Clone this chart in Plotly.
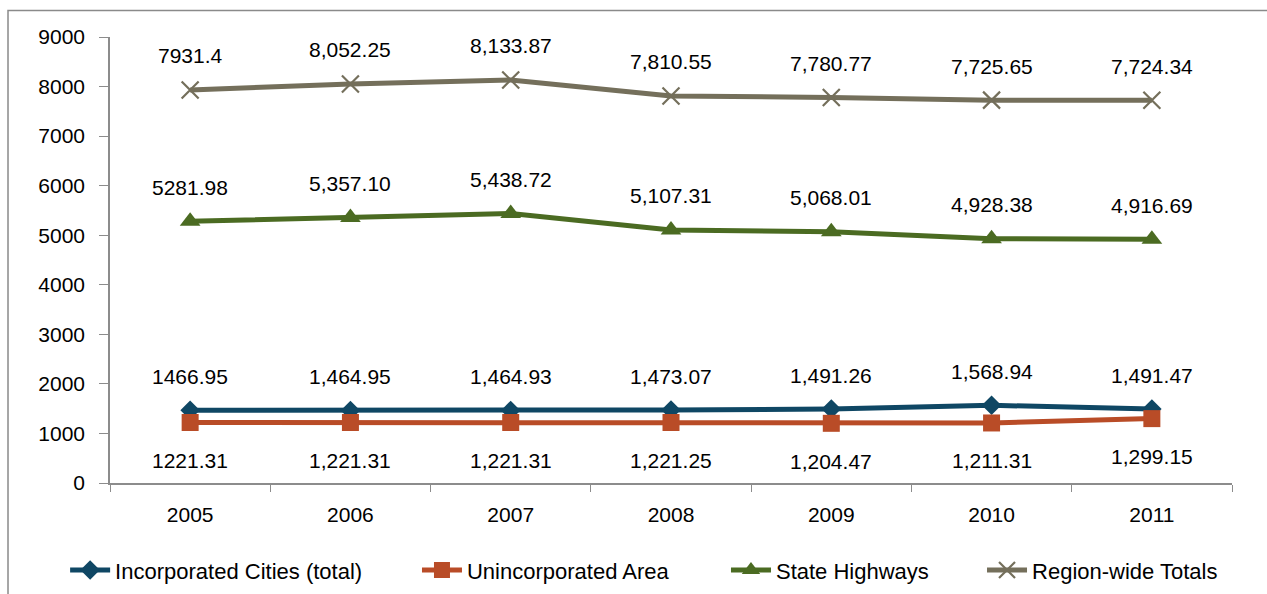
import plotly.graph_objects as go

years = ["2005", "2006", "2007", "2008", "2009", "2010", "2011"]

incorporated = [1466.95, 1464.95, 1464.93, 1473.07, 1491.26, 1568.94, 1491.47]
unincorporated = [1221.31, 1221.31, 1221.31, 1221.25, 1204.47, 1211.31, 1299.15]
state_highways = [5281.98, 5357.10, 5438.72, 5107.31, 5068.01, 4928.38, 4916.69]
region_totals = [7931.4, 8052.25, 8133.87, 7810.55, 7780.77, 7725.65, 7724.34]

y_ticks = [0, 1000, 2000, 3000, 4000, 5000, 6000, 7000, 8000, 9000]

FONT = "Liberation Sans, Arial, sans-serif"
FSIZE = 21
LEG_FSIZE = 22
AXIS_GREY = "#8C8C8C"


def fmt(v, i):
    # first year is printed plainly, later years with thousands separators
    if i == 0:
        return f"{v:g}"
    return f"{v:,.2f}"


# name, values, colour, marker, label offset (px), legend id, legend x (paper)
series = [
    ("Incorporated Cities (total)", incorporated, "#0F4764",
     dict(symbol="diamond", size=15), 34, "legend", -0.040),
    ("Unincorporated Area", unincorporated, "#B94C27",
     dict(symbol="square", size=17), -38, "legend2", 0.2736),
    ("State Highways", state_highways, "#4B6B22",
     dict(symbol="triangle-up", size=18), 34, "legend3", 0.549),
    ("Region-wide Totals", region_totals, "#746F5B",
     dict(symbol="x-thin-open", size=17, line=dict(width=2.2)), 34, "legend4", 0.7772),
]

fig = go.Figure()
annotations = []
legends = {}
for name, vals, color, marker, shift, leg, legx in series:
    m = dict(marker)
    m["color"] = color
    if "line" in m:
        m["line"] = dict(m["line"], color=color)
    fig.add_trace(go.Scatter(
        x=years, y=vals, name=name, mode="lines+markers",
        line=dict(color=color, width=5),
        marker=m, legend=leg,
    ))
    legends[leg] = dict(
        orientation="h", x=legx, xanchor="left",
        yref="container", y=0.04, yanchor="middle",
        font=dict(family=FONT, size=LEG_FSIZE, color="#000000"),
        itemwidth=40, bgcolor="rgba(0,0,0,0)",
    )
    for i, v in enumerate(vals):
        annotations.append(dict(
            x=i, y=v, xref="x", yref="y", text=fmt(v, i), showarrow=False,
            yshift=shift, yanchor="middle", xanchor="center",
            font=dict(family=FONT, size=FSIZE, color="#000000"),
        ))

fig.update_layout(
    width=1267, height=594,
    margin=dict(l=110, r=35, t=37, b=111),
    paper_bgcolor="white", plot_bgcolor="white",
    font=dict(family=FONT, size=FSIZE, color="#000000"),
    annotations=annotations,
    showlegend=True,
    shapes=[dict(
        type="rect", xref="paper", yref="paper",
        x0=-0.0909, x1=1.2, y0=-0.5, y1=1.0595,
        line=dict(color="#8A8A8A", width=1.5), layer="below",
    )],
    **legends,
)

fig.update_xaxes(
    type="category", range=[-0.5, 6.5], tickson="boundaries",
    ticks="outside", ticklen=7, tickcolor=AXIS_GREY,
    showline=True, linecolor=AXIS_GREY, linewidth=1.5,
    showgrid=False, zeroline=False,
    tickfont=dict(family=FONT, size=FSIZE), ticklabelstandoff=12,
)
fig.update_yaxes(
    range=[0, 9000], tickvals=y_ticks,
    ticks="outside", ticklen=9, tickcolor=AXIS_GREY,
    showline=True, linecolor=AXIS_GREY, linewidth=1.5,
    showgrid=False, zeroline=False,
    tickfont=dict(family=FONT, size=FSIZE), ticklabelstandoff=10,
)

fig.write_html("out.html")
